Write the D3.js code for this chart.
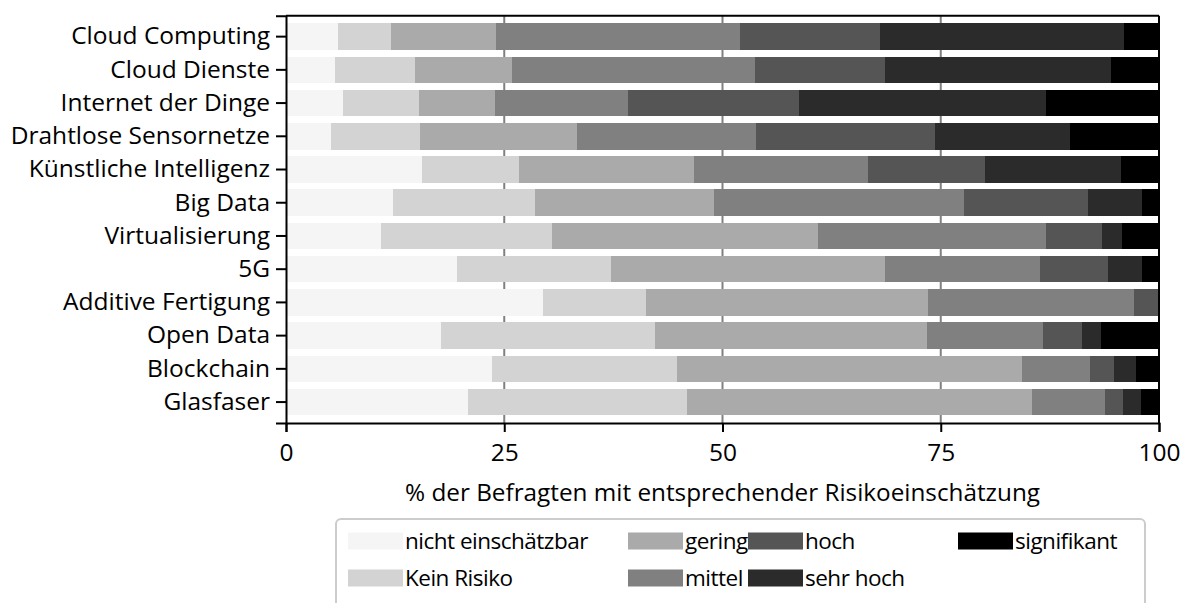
<!DOCTYPE html>
<html>
<head>
<meta charset="utf-8">
<script src="https://cdn.jsdelivr.net/npm/d3@7"></script>
<style>
  body { margin: 0; background: #fff; }
  text { font-family: "Open Sans", sans-serif; fill: #000; }
</style>
</head>
<body>
<div id="chart"></div>
<script>
// categories (top to bottom)
var categories = ["Cloud Computing", "Cloud Dienste", "Internet der Dinge", "Drahtlose Sensornetze",
  "Künstliche Intelligenz", "Big Data", "Virtualisierung", "5G", "Additive Fertigung",
  "Open Data", "Blockchain", "Glasfaser"];

var levels = ["nicht einschätzbar", "Kein Risiko", "gering", "mittel", "hoch", "sehr hoch", "signifikant"];
var levelColors = ["#f5f5f5", "#d3d3d3", "#aaaaaa", "#808080", "#555555", "#2b2b2b", "#000000"];

// percent per level, same order as categories
var nichtEinschaetzbar = [6.0, 5.6, 6.5, 5.2, 15.6, 12.3, 10.9, 19.6, 29.4, 17.8, 23.6, 20.8];
var keinRisiko        = [6.0, 9.2, 8.7, 10.1, 11.1, 16.2, 19.6, 17.6, 11.8, 24.5, 21.2, 25.1];
var gering            = [12.0, 11.1, 8.7, 18.0, 20.0, 20.5, 30.4, 31.4, 32.3, 31.1, 39.5, 39.6];
var mittel            = [28.0, 27.8, 15.3, 20.5, 20.0, 28.7, 26.2, 17.8, 23.6, 13.3, 7.8, 8.3];
var hoch              = [16.0, 14.9, 19.6, 20.5, 13.4, 14.2, 6.4, 7.8, 2.9, 4.5, 2.7, 2.1];
var sehrHoch          = [28.0, 25.9, 28.3, 15.5, 15.5, 6.2, 2.3, 3.9, 0, 2.2, 2.6, 2.0];
var signifikant       = [4.0, 5.5, 12.9, 10.2, 4.4, 1.9, 4.2, 1.9, 0, 6.6, 2.6, 2.1];

var xTicks = [0, 25, 50, 75, 100];
var xLabel = "% der Befragten mit entsprechender Risikoeinschätzung";

var series = [nichtEinschaetzbar, keinRisiko, gering, mittel, hoch, sehrHoch, signifikant];
var rows = categories.map(function (c, i) {
  var r = { category: c };
  levels.forEach(function (l, j) { r[l] = series[j][i]; });
  return r;
});

var W = 1182, H = 603;
var margin = { top: 15.7, left: 286, right: 23, bottom: 180 };
var width = W - margin.left - margin.right,
    height = H - margin.top - margin.bottom;

var svg = d3.select("#chart").append("svg")
  .attr("width", W).attr("height", H);
var g = svg.append("g")
  .attr("transform", "translate(" + margin.left + "," + margin.top + ")");

var x = d3.scaleLinear().domain([0, 100]).range([0, width]);
var y = d3.scaleBand().domain(categories).range([0, height])
  .paddingInner(0.2).paddingOuter(0.23);

// gridlines behind bars
g.append("g").selectAll("line")
  .data(xTicks.slice(1, -1))
  .enter().append("line")
  .attr("x1", function (d) { return x(d); })
  .attr("x2", function (d) { return x(d); })
  .attr("y1", 0).attr("y2", height)
  .attr("stroke", "#808080").attr("stroke-width", 2);

// stacked bars
var stacked = d3.stack().keys(levels)(rows);
var color = d3.scaleOrdinal().domain(levels).range(levelColors);

g.append("g").selectAll("g")
  .data(stacked)
  .enter().append("g")
  .attr("fill", function (d) { return color(d.key); })
  .selectAll("rect")
  .data(function (d) { return d; })
  .enter().append("rect")
  .attr("x", function (d) { return x(d[0]); })
  .attr("width", function (d) { return Math.max(0, x(d[1]) - x(d[0])); })
  .attr("y", function (d) { return y(d.data.category); })
  .attr("height", y.bandwidth())
  .attr("shape-rendering", "crispEdges");

// frame top / right
g.append("line").attr("x1", 0).attr("x2", width).attr("y1", 0).attr("y2", 0)
  .attr("stroke", "#000").attr("stroke-width", 2);
g.append("line").attr("x1", width).attr("x2", width).attr("y1", 0).attr("y2", height)
  .attr("stroke", "#000").attr("stroke-width", 2);

// x axis
var xAxis = g.append("g")
  .attr("transform", "translate(0," + height + ")")
  .call(d3.axisBottom(x).tickValues(xTicks).tickSize(9).tickPadding(12));
xAxis.select(".domain").attr("stroke-width", 2);
xAxis.selectAll(".tick line").attr("stroke-width", 2);
xAxis.selectAll("text").style("font-size", "24.5px").style("font-family", "Open Sans");

// y axis
var yAxis = g.append("g")
  .call(d3.axisLeft(y).tickSize(10).tickPadding(6));
yAxis.select(".domain").attr("stroke-width", 2);
yAxis.selectAll(".tick line").attr("stroke-width", 2);
yAxis.selectAll("text").style("font-size", "24.5px").style("font-family", "Open Sans");

// x label
g.append("text")
  .attr("x", width / 2).attr("y", height + 78)
  .attr("text-anchor", "middle")
  .style("font-size", "24.3px")
  .text(xLabel);

// legend
var lg = svg.append("g").attr("transform", "translate(336,519)");
lg.append("rect")
  .attr("x", 0).attr("y", 0).attr("width", 809).attr("height", 110)
  .attr("rx", 5).attr("fill", "#fff").attr("stroke", "#cccccc").attr("stroke-width", 2);

var colX = [12, 292, 412, 622];
var rowY = [22, 59];
var item = lg.selectAll(".item")
  .data(levels)
  .enter().append("g")
  .attr("class", "item")
  .attr("transform", function (d, i) {
    return "translate(" + colX[Math.floor(i / 2)] + "," + rowY[i % 2] + ")";
  });
item.append("rect")
  .attr("x", 0).attr("y", -8.5).attr("width", 55).attr("height", 17)
  .attr("fill", function (d) { return color(d); });
item.append("text")
  .attr("x", 57).attr("y", 0).attr("dy", "0.35em")
  .style("font-size", "22.5px")
  .style("letter-spacing", "-0.5px")
  .text(function (d) { return d; });
</script>
</body>
</html>
